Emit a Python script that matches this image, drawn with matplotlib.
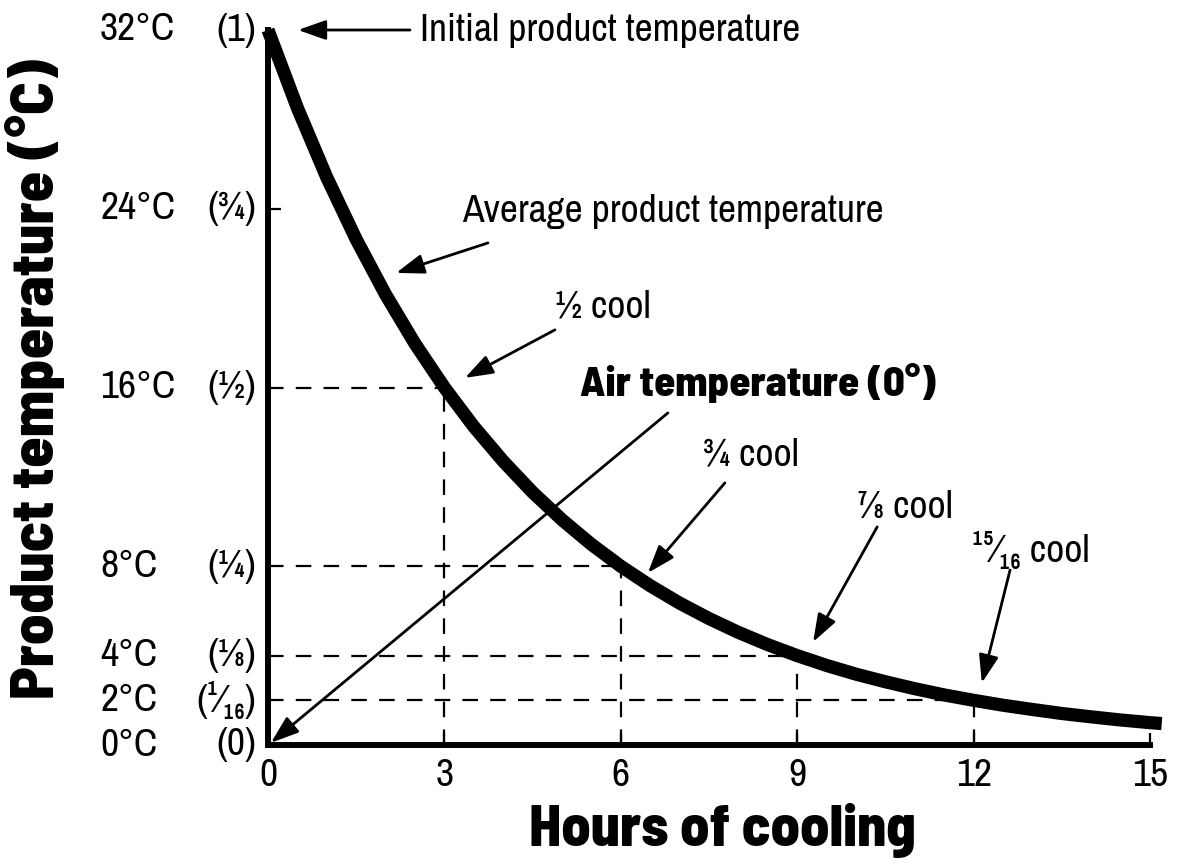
import matplotlib
matplotlib.use("Agg")
import matplotlib.pyplot as plt
from matplotlib import font_manager
from matplotlib.font_manager import FontProperties
import os

# ---- data ----
hours = [0, 0.5, 1, 1.5, 2, 2.5, 3, 3.5, 4, 4.5, 5, 5.5, 6, 6.5, 7, 7.5, 8, 8.5,
         9, 9.5, 10, 10.5, 11, 11.5, 12, 12.5, 13, 13.5, 14, 14.5, 15, 15.2]
temps = [32, 28.51, 25.40, 22.63, 20.16, 17.96, 16.00, 14.25, 12.70, 11.31, 10.08,
         8.98, 8.00, 7.13, 6.35, 5.66, 5.04, 4.49, 4.00, 3.56, 3.17, 2.83, 2.52,
         2.24, 2.00, 1.78, 1.59, 1.41, 1.26, 1.12, 1.00, 0.96]
cool_hours = [3, 6, 9, 12]
cool_temps = [16, 8, 4, 2]
ytick_vals = [0, 2, 4, 8, 16, 24, 32]
ytick_temp_labels = ["0°C", "2°C", "4°C", "8°C", "16°C", "24°C", "32°C"]
ytick_frac_labels = ["(0)", "(¹⁄₁₆)", "(⅛)", "(¼)", "(½)", "(¾)", "(1)"]
xtick_vals = [0, 3, 6, 9, 12, 15]
xtick_labels = ["0", "3", "6", "9", "12", "15"]

# ---- fonts ----
files = {os.path.basename(f.fname): f for f in font_manager.fontManager.ttflist}
names = {f.name for f in font_manager.fontManager.ttflist}

reg_family = None
for nm in ("Archivo Narrow", "Roboto Condensed", "Fira Sans Condensed",
           "Liberation Sans Narrow"):
    if nm in names:
        reg_family = nm
        break
if reg_family is None:
    reg_family = "Liberation Sans"
plt.rcParams['font.family'] = [reg_family, "DejaVu Sans"]

bold_file = None
for fn in ("BarlowSemiCondensed-ExtraBold.ttf", "BarlowCondensed-ExtraBold.ttf",
           "FiraSansCondensed-ExtraBold.ttf", "DejaVuSansCondensed-Bold.ttf"):
    if fn in files:
        bold_file = files[fn].fname
        break
if bold_file:
    bold_fp = dict(fontproperties=FontProperties(fname=bold_file))
else:
    bold_fp = dict(family=["Liberation Sans", "DejaVu Sans"], fontweight="bold")

tick_fs, ann_fs = 28.5, 28.5
air_fs, xtitle_fs, ytitle_fs = 30.5, 42, 44

W, H = 1177, 868
fig = plt.figure(figsize=(W / 100, H / 100), dpi=100)
x0, y0 = 268, 745
xr = 15.3
pxx = 58.8
ax = fig.add_axes([x0 / W, 1 - y0 / H, xr * pxx / W, (745 - 30) / H])
ax.set_xlim(0, xr)
ax.set_ylim(0, 32)

for s in ["top", "right"]:
    ax.spines[s].set_visible(False)
for s in ["left", "bottom"]:
    ax.spines[s].set_linewidth(4.3)
    ax.spines[s].set_capstyle("projecting")
ax.spines["bottom"].set_bounds(0, 15)

# dashed guide lines
for h, t in zip(cool_hours, cool_temps):
    ax.plot([0, h], [t, t], color="black", lw=1.6, dashes=(7, 5.5), zorder=2)
    ax.plot([h, h], [0, t], color="black", lw=1.6, dashes=(7, 5.5), zorder=2)

# main curve
ax.plot(hours, temps, color="black", lw=9.5, solid_capstyle="butt",
        clip_on=False, zorder=5)

# ticks
ax.set_xticks(xtick_vals)
ax.set_xticklabels(xtick_labels, fontsize=tick_fs)
ax.tick_params(axis="x", direction="in", length=9, width=1.6, pad=9)
ax.set_yticks([24])
ax.set_yticklabels([])
ax.tick_params(axis="y", direction="in", length=9, width=1.6)

for v, tl, fl in zip(ytick_vals, ytick_temp_labels, ytick_frac_labels):
    ax.text(-2.857, v, tl, fontsize=tick_fs, ha="left", va="center", clip_on=False)
    ax.text(-0.2, v, fl, fontsize=tick_fs, ha="right", va="center", clip_on=False)

# annotations
arrow_kw = dict(arrowstyle="-|>,head_length=1.7,head_width=0.6", color="black",
                lw=2.0, shrinkA=0, shrinkB=0)
ax.annotate("", xy=(0.51, 32.0), xytext=(2.415, 32.0), arrowprops=arrow_kw,
            annotation_clip=False)
ax.text(2.585, 32.0, "Initial product temperature", fontsize=ann_fs, ha="left",
        va="center")

ax.annotate("", xy=(2.18, 21.13), xytext=(3.74, 22.47), arrowprops=arrow_kw)
ax.text(3.30, 23.86, "Average product temperature", fontsize=ann_fs, ha="left",
        va="center")

ax.annotate("", xy=(3.35, 16.43), xytext=(4.88, 18.58), arrowprops=arrow_kw)
ax.text(4.88, 19.6, "½ cool", fontsize=ann_fs, ha="left", va="center")

ax.annotate("", xy=(0.05, 0.1), xytext=(6.80, 14.86), arrowprops=arrow_kw)
ax.text(5.31, 16.2, "Air temperature (0°)", fontsize=air_fs, ha="left",
        va="center", **bold_fp)

ax.annotate("", xy=(6.46, 7.70), xytext=(7.77, 11.73), arrowprops=arrow_kw)
ax.text(7.40, 12.98, "¾ cool", fontsize=ann_fs, ha="left", va="center")

ax.annotate("", xy=(9.27, 4.61), xytext=(10.36, 9.76), arrowprops=arrow_kw)
ax.text(10.02, 10.61, "⅞ cool", fontsize=ann_fs, ha="left", va="center")

ax.annotate("", xy=(12.14, 2.78), xytext=(12.62, 7.83), arrowprops=arrow_kw)
ax.text(11.97, 8.73, "¹⁵⁄₁₆ cool", fontsize=ann_fs, ha="left", va="center")

# axis titles
fig.text(722 / W, 1 - 830 / H, "Hours of cooling", fontsize=xtitle_fs,
         ha="center", va="center", **bold_fp)
fig.text(35 / W, 1 - 379 / H, "Product temperature (°C)", fontsize=ytitle_fs,
         ha="center", va="center", rotation=90, **bold_fp)

fig.savefig("out.png", dpi=100)
